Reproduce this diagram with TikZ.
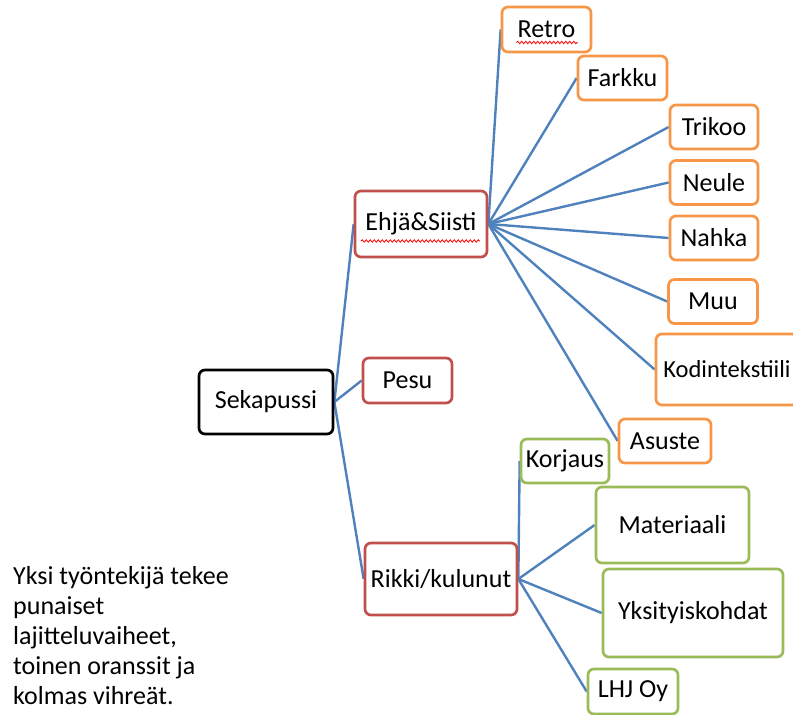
\documentclass[tikz,border=0pt]{standalone}
\usepackage{fontspec}
\setmainfont{Carlito}
\usetikzlibrary{backgrounds,calc,decorations.pathmorphing}
\definecolor{cred}{HTML}{C0504D}
\definecolor{corange}{HTML}{F79646}
\definecolor{cgreen}{HTML}{9BBB59}
\definecolor{cline}{HTML}{4F81BD}
\tikzset{
  box/.style={draw, line width=2.7pt, rounded corners=6pt, fill=white, inner sep=0pt,
    font=\fontsize{26}{30}\selectfont},
  rootbox/.style={box, draw=black},
  redbox/.style={box, draw=cred},
  orbox/.style={box, draw=corange},
  grbox/.style={box, draw=cgreen},
  conn/.style={draw=cline, line width=2.4pt},
  spell/.style={draw=red, line width=0.8pt, decorate,
    decoration={snake, amplitude=1.2pt, segment length=4pt}}
}
\newcommand{\bx}[6]{\node[#1, minimum width=#4pt, minimum height=#5pt] (#2) at (#3) {#6};}
\begin{document}
\begin{tikzpicture}[x=1pt,y=-1pt]
\useasboundingbox (0,0) rectangle (793,715);
\bx{rootbox}{seka}{266,402}{134}{64}{Sekapussi}
\bx{redbox}{ehja}{421,224}{132}{66}{Ehjä\&Siisti}
\bx{redbox}{pesu}{407.5,380.5}{89}{45}{Pesu}
\bx{redbox}{rikki}{441,579}{152}{72}{Rikki/kulunut}
\bx{orbox}{retro}{546.5,29.5}{89}{45}{Retro}
\bx{orbox}{farkku}{622.5,78}{89}{44}{Farkku}
\bx{orbox}{trikoo}{714,127}{88}{44}{Trikoo}
\bx{orbox}{neule}{714,182.5}{88}{44}{Neule}
\bx{orbox}{nahka}{714,238}{88}{44}{Nahka}
\bx{orbox}{muu}{713,301.5}{89}{44}{Muu}
\bx{orbox,font=\fontsize{24.5}{30}\selectfont}{kodin}{727,369.5}{142}{71}{Kodintekstiili}
\bx{orbox}{asuste}{665,441}{92}{44}{Asuste}
\bx{grbox}{korjaus}{565,461}{88}{44}{Korjaus}
\bx{grbox}{materiaali}{672.5,525}{153}{76}{Materiaali}
\bx{grbox}{yksit}{693,613}{180}{88}{Yksityiskohdat}
\bx{grbox}{lhj}{633,691.5}{90}{45}{LHJ Oy}
\node[anchor=north west, inner sep=0pt, align=left, font=\fontsize{26}{30}\selectfont] (note) at (13,566)
  {Yksi työntekijä tekee\\punaiset\\lajitteluvaiheet,\\toinen oranssit ja\\kolmas vihreät.};
\draw[spell] ($(retro.center)+(-30,13)$) -- ($(retro.center)+(31,13)$);
\draw[spell] ($(ehja.center)+(-60,17)$) -- ($(ehja.center)+(59,17)$);
\begin{scope}[on background layer]
\foreach \c in {ehja,pesu,rikki} \draw[conn] (seka.east) -- (\c.west);
\foreach \c in {retro,farkku,trikoo,neule,nahka,muu,kodin,asuste} \draw[conn] (ehja.east) -- (\c.west);
\foreach \c in {korjaus,materiaali,yksit,lhj} \draw[conn] (rikki.east) -- (\c.west);
\end{scope}
\end{tikzpicture}
\end{document}
